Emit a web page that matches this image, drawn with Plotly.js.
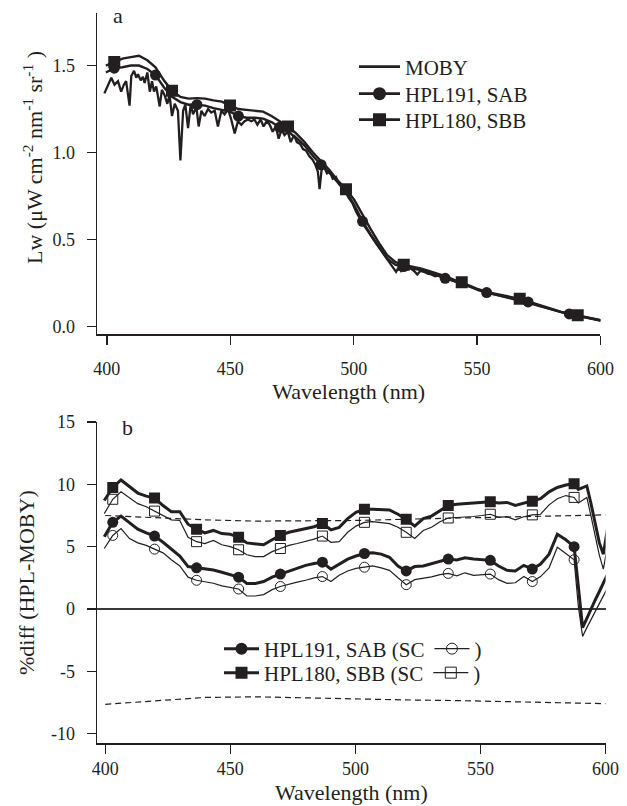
<!DOCTYPE html>
<html><head><meta charset="utf-8">
<script src="https://cdn.plot.ly/plotly-3.0.1.min.js"></script>
<style>html,body{margin:0;padding:0;background:#fff}#chart{width:627px;height:806px}</style>
</head><body><div id="chart"></div>
<script>
// ---------- Panel a : water-leaving radiance ----------
const waveMOBY = [399.0,400.4,401.8,403.1,404.5,405.8,406.9,407.8,409.2,409.9,411.0,411.9,412.6,413.7,414.6,415.3,416.4,417.4,418.3,419.1,420.0,421.4,422.3,423.4,424.5,425.4,426.4,427.5,428.8,429.8,430.9,431.8,432.9,434.0,434.9,436.3,437.2,438.3,439.6,441.0,442.3,443.7,445.0,446.4,447.7,449.1,450.4,451.8,453.1,454.5,455.8,457.2,458.5,459.8,461.0,462.3,463.5,464.8,466.0,467.2,468.5,469.6,470.8,472.0,473.3,474.5,475.8,477.0,478.3,479.5,480.8,482.0,483.3,484.5,485.5,486.2,487.0,488.0,489.2,490.4,491.5,492.8,494.0,495.3,496.5,498.0,499.5,501.0,502.5,504.0,505.5,507.0,508.5,510.0,511.5,513.0,514.5,516.0,517.2,518.2,519.2,520.5,521.6,523.0,524.5,525.8,527.0,528.5,530.0,531.5,533.0,534.5,536.0,538.0,540.0,542.0,545.0,548.0,551.0,554.0,557.0,560.0,563.0,566.0,570.0,575.0,580.0,585.0,590.0,595.0,600.0];
const lwMOBY = [1.34,1.39,1.43,1.39,1.41,1.35,1.39,1.41,1.27,1.44,1.47,1.43,1.45,1.415,1.435,1.40,1.46,1.35,1.41,1.35,1.38,1.265,1.36,1.33,1.28,1.33,1.21,1.28,1.24,0.955,1.24,1.275,1.14,1.28,1.22,1.26,1.15,1.24,1.21,1.25,1.23,1.24,1.15,1.24,1.22,1.25,1.19,1.11,1.18,1.16,1.18,1.19,1.18,1.19,1.16,1.19,1.15,1.18,1.16,1.12,1.15,1.08,1.13,1.10,1.12,1.06,1.10,1.06,1.05,1.02,1.01,0.98,0.96,0.93,0.89,0.79,0.90,0.92,0.88,0.89,0.85,0.86,0.82,0.80,0.78,0.74,0.71,0.66,0.62,0.585,0.555,0.52,0.49,0.46,0.43,0.40,0.37,0.335,0.315,0.34,0.32,0.345,0.33,0.335,0.32,0.30,0.32,0.315,0.305,0.30,0.29,0.295,0.28,0.275,0.265,0.255,0.24,0.225,0.21,0.195,0.185,0.175,0.165,0.155,0.14,0.12,0.10,0.08,0.065,0.05,0.035];
const waveHPL = [399.6,403.0,406.3,409.7,413.0,416.4,419.7,423.1,426.4,429.8,433.1,436.5,439.8,443.2,446.6,449.9,453.3,456.6,460.0,463.3,466.7,470.0,473.4,476.7,480.1,483.5,486.8,490.2,493.5,496.9,500.2,503.6,506.9,510.3,513.6,517.0,520.3,523.7,527.1,530.4,533.8,537.1,540.5,543.8,547.2,550.5,553.9,557.2,560.6,563.9,567.3,570.7,574.0,577.4,580.7,584.1,587.4,590.8,594.1,597.5,600.8];
const lwHPL191 = [1.46,1.485,1.49,1.50,1.50,1.48,1.445,1.375,1.32,1.29,1.275,1.275,1.27,1.255,1.245,1.235,1.21,1.20,1.20,1.195,1.175,1.145,1.12,1.085,1.04,0.98,0.93,0.885,0.83,0.78,0.70,0.605,0.53,0.46,0.39,0.355,0.345,0.335,0.325,0.31,0.295,0.278,0.262,0.248,0.23,0.21,0.196,0.186,0.176,0.166,0.155,0.142,0.127,0.112,0.098,0.084,0.073,0.063,0.053,0.043,0.034];
const lwHPL180 = [1.50,1.52,1.54,1.548,1.556,1.53,1.49,1.415,1.355,1.32,1.31,1.313,1.31,1.30,1.293,1.27,1.25,1.245,1.242,1.235,1.21,1.18,1.15,1.11,1.06,1.00,0.95,0.90,0.84,0.79,0.73,0.64,0.56,0.48,0.41,0.37,0.355,0.345,0.335,0.32,0.305,0.29,0.27,0.255,0.235,0.215,0.20,0.19,0.18,0.17,0.16,0.145,0.13,0.115,0.10,0.085,0.075,0.065,0.055,0.045,0.035];

// ---------- Panel b : percent difference ----------
const wavePD = [399.6,403.0,406.3,409.7,413.0,416.4,419.7,423.1,426.4,429.8,433.1,436.5,439.8,443.2,446.6,449.9,453.3,456.6,460.0,463.3,466.7,470.0,473.4,476.7,480.1,483.5,486.8,490.2,493.5,496.9,500.2,503.6,506.9,510.3,513.6,517.0,520.3,523.7,527.1,530.4,533.8,537.1,540.5,543.8,547.2,550.5,553.9,557.2,560.6,563.9,567.3,570.7,574.0,577.4,580.7,584.1,587.4,589.1,590.8,592.5,594.1,595.8,597.5,599.1,600.8];
const pd191 = [5.8,6.95,7.45,6.9,6.4,6.1,5.85,5.35,4.8,4.25,3.4,3.3,3.25,3.13,2.95,2.75,2.55,2.05,2.05,2.2,2.55,2.8,3.05,3.3,3.5,3.65,3.75,3.2,3.6,4.0,4.25,4.45,4.5,4.4,4.15,3.45,3.05,3.4,3.45,3.65,3.85,4.0,3.93,4.1,4.0,3.95,3.9,3.45,3.1,3.05,3.5,3.2,3.6,4.4,6.0,5.55,5.0,1.8,-1.5,-0.75,0.0,0.7,1.4,2.1,2.8];
const pd191SC = [4.85,5.9,6.45,5.65,5.3,5.1,4.8,4.5,3.95,3.45,2.55,2.3,2.18,2.06,1.85,1.75,1.6,1.04,1.04,1.15,1.55,1.8,2.0,2.15,2.3,2.5,2.6,2.2,2.7,3.05,3.25,3.35,3.45,3.3,3.1,2.5,1.95,2.35,2.45,2.58,2.75,2.85,2.65,2.9,2.7,2.75,2.8,2.35,2.05,2.1,2.6,2.2,2.6,3.3,4.95,4.45,3.95,0.2,-2.2,-1.5,-0.85,-0.2,0.45,1.05,1.7];
const pd180 = [8.7,9.75,10.35,9.8,9.3,9.05,8.9,8.3,7.8,7.8,6.8,6.4,6.1,6.3,6.05,6.0,5.75,5.3,5.2,5.15,5.55,5.9,6.15,6.3,6.4,6.6,6.85,6.35,6.55,7.25,7.75,8.0,8.0,7.98,7.95,7.6,7.2,6.65,7.25,7.45,7.9,8.3,8.4,8.45,8.5,8.55,8.6,8.5,8.55,8.3,8.5,8.65,8.85,9.4,9.75,9.95,10.05,9.6,9.75,9.87,8.5,6.9,5.3,4.4,6.5];
const pd180SC = [7.65,8.8,9.4,8.9,8.45,8.2,7.85,7.45,7.15,7.1,5.75,5.4,5.25,5.5,5.15,5.0,4.75,4.35,4.2,4.2,4.6,4.85,5.1,5.25,5.4,5.6,5.85,5.35,5.4,6.15,6.65,6.95,7.0,6.92,6.85,6.55,6.15,5.65,6.3,6.55,7.0,7.3,7.33,7.4,7.42,7.5,7.6,7.35,7.4,7.15,7.4,7.55,7.6,8.35,8.85,9.1,8.95,8.5,8.75,8.95,7.5,5.9,4.3,3.2,5.1];
const waveLim = [400,420,440,460,480,500,520,540,560,580,600];
const limUpper = [7.5,7.3,7.15,7.05,7.05,7.1,7.2,7.3,7.38,7.45,7.55];
const limLower = [-7.65,-7.35,-7.1,-7.05,-7.15,-7.25,-7.3,-7.35,-7.42,-7.5,-7.6];

const xTicks = [400,450,500,550,600];
const yTicksA = [0,0.5,1.0,1.5];
const yTicksB = [-10,-5,0,5,10,15];
const yTickTextB = ['-10','-5','0','5','10','15'];

// ---------- styling ----------
const INK = '#231f20';
const FONT = 'Liberation Serif';
function sizes(n, every, size, lastIdx) {
  return Array.from({length: n}, (_, i) => (i % every === 1 && i <= lastIdx) ? size : 0);
}
function dataTrace(x, y, line, marker, xa, ya) {
  const t = {x: x, y: y, type: 'scatter', mode: marker ? 'lines+markers' : 'lines', showlegend: false,
    line: line, xaxis: xa, yaxis: ya, hoverinfo: 'skip'};
  if (marker) t.marker = marker;
  return t;
}
// legend-only entries (no data), so each key shows the line with one marker
function keyTrace(name, legend, line, marker, xa, ya) {
  const t = {x: [null], y: [null], type: 'scatter', mode: marker ? 'lines+markers' : 'lines', name: name,
    legend: legend, showlegend: true, line: line, xaxis: xa, yaxis: ya, hoverinfo: 'skip'};
  if (marker) t.marker = marker;
  return t;
}
const thickA = {color: INK, width: 2.4};
const thickB = {color: INK, width: 3};
const thin = {color: INK, width: 1.2};
const mCirc = s => ({symbol: 'circle', color: INK, size: s, opacity: 1, line: {width: 0}});
const mSq = s => ({symbol: 'square', color: INK, size: s, opacity: 1, line: {width: 0}});
const mCircO = s => ({symbol: 'circle-open', color: INK, size: s, opacity: 1, line: {width: 1, color: INK}});
const mSqO = s => ({symbol: 'square-open', color: INK, size: s, opacity: 1, line: {width: 1, color: INK}});

const traces = [
  dataTrace(waveMOBY, lwMOBY, {color: INK, width: 2.3}, null, 'x', 'y'),
  dataTrace(waveHPL, lwHPL191, thickA, mCirc(sizes(waveHPL.length, 5, 11, 60)), 'x', 'y'),
  dataTrace(waveHPL, lwHPL180, thickA, mSq(sizes(waveHPL.length, 7, 12, 60)), 'x', 'y'),
  keyTrace('MOBY', 'legend', {color: INK, width: 2.6}, null, 'x', 'y'),
  keyTrace('HPL191, SAB', 'legend2', {color: INK, width: 2.6}, mCirc(13), 'x', 'y'),
  keyTrace('HPL180, SBB', 'legend3', {color: INK, width: 2.6}, mSq(13), 'x', 'y'),

  dataTrace(waveLim, limUpper, {color: INK, width: 1.2, dash: '6px,4px'}, null, 'x2', 'y2'),
  dataTrace(waveLim, limLower, {color: INK, width: 1.2, dash: '6px,4px'}, null, 'x2', 'y2'),
  dataTrace(wavePD, pd191SC, thin, mCircO(sizes(wavePD.length, 5, 10, 56)), 'x2', 'y2'),
  dataTrace(wavePD, pd180SC, thin, mSqO(sizes(wavePD.length, 5, 10, 56)), 'x2', 'y2'),
  dataTrace(wavePD, pd191, thickB, mCirc(sizes(wavePD.length, 5, 11, 56)), 'x2', 'y2'),
  dataTrace(wavePD, pd180, thickB, mSq(sizes(wavePD.length, 5, 11, 56)), 'x2', 'y2'),
  keyTrace('HPL191, SAB (SC', 'legend4', thickB, mCirc(12), 'x2', 'y2'),
  keyTrace(')', 'legend4', thin, mCircO(11), 'x2', 'y2'),
  keyTrace('HPL180, SBB (SC', 'legend5', thickB, mSq(12), 'x2', 'y2'),
  keyTrace(')', 'legend5', thin, mSqO(11), 'x2', 'y2')
];

const axisBase = {
  showline: true, linecolor: INK, linewidth: 1.3, ticks: 'outside', ticklen: 9, tickwidth: 1.3,
  tickcolor: INK, showgrid: false, zeroline: false, tickfont: {family: FONT, size: 18, color: INK},
  automargin: false
};
const legendBase = {
  font: {family: FONT, size: 21, color: INK}, bgcolor: 'rgba(0,0,0,0)', borderwidth: 0,
  itemsizing: 'trace', xanchor: 'left', yanchor: 'middle', tracegroupgap: 0, orientation: 'h'
};
const titleFont = {family: FONT, size: 22, color: INK};
const py = v => 1 - v / 806;   // pixels from top -> paper fraction
const px = v => v / 627;

const layout = {
  width: 627, height: 806, margin: {l: 0, r: 0, t: 0, b: 0},
  paper_bgcolor: '#fff', plot_bgcolor: '#fff',
  font: {family: FONT, color: INK},
  showlegend: true,
  xaxis: Object.assign({}, axisBase, {domain: [0.1547, 0.9576], range: [396, 600], anchor: 'y',
    tickvals: xTicks, ticklabelstandoff: 9, title: {text: 'Wavelength (nm)', font: titleFont, standoff: 2}}),
  yaxis: Object.assign({}, axisBase, {domain: [0.5852, 0.9835], range: [-0.044, 1.80], anchor: 'x',
    tickvals: yTicksA, tickformat: '.1f', ticklabelstandoff: 8}),
  xaxis2: Object.assign({}, axisBase, {domain: [0.1547, 0.9659], range: [396.7, 600], anchor: 'y2',
    tickvals: xTicks, ticklabelstandoff: 0}),
  yaxis2: Object.assign({}, axisBase, {domain: [0.0778, 0.4764], range: [-10.78, 15], anchor: 'x2',
    tickvals: yTicksB, ticktext: yTickTextB, zeroline: true, zerolinecolor: '#3a3a3a', zerolinewidth: 1.5,
    ticklabelstandoff: 8,
    title: {text: '%diff (HPL-MOBY)', font: titleFont, standoff: 10}}),
  legend: Object.assign({}, legendBase, {x: px(354), y: py(67), itemwidth: 41}),
  legend2: Object.assign({}, legendBase, {x: px(354), y: py(94), itemwidth: 41}),
  legend3: Object.assign({}, legendBase, {x: px(354), y: py(120), itemwidth: 41}),
  legend4: Object.assign({}, legendBase, {x: px(219), y: py(649), itemwidth: 35}),
  legend5: Object.assign({}, legendBase, {x: px(219), y: py(673), itemwidth: 35}),
  annotations: [
    {text: 'Lw (μW cm<sup>-2</sup> nm<sup>-1</sup> sr<sup>-1</sup> )', textangle: -90,
     xref: 'paper', yref: 'paper', x: px(33), y: py(158), showarrow: false,
     font: titleFont, xanchor: 'center', yanchor: 'middle'},
    {text: 'Wavelength (nm)', xref: 'paper', yref: 'paper', x: px(351), y: 0, showarrow: false,
     font: titleFont, xanchor: 'center', yanchor: 'bottom', borderpad: 0},
    {text: 'a', xref: 'paper', yref: 'paper', x: 0.188, y: 0.981, showarrow: false,
     font: {family: FONT, size: 22, color: INK}, xanchor: 'center', yanchor: 'middle'},
    {text: 'b', xref: 'paper', yref: 'paper', x: 0.2026, y: 0.469, showarrow: false,
     font: {family: FONT, size: 22, color: INK}, xanchor: 'center', yanchor: 'middle'}
  ]
};

Plotly.newPlot('chart', traces, layout, {displayModeBar: false, staticPlot: true});
</script>
</body></html>
